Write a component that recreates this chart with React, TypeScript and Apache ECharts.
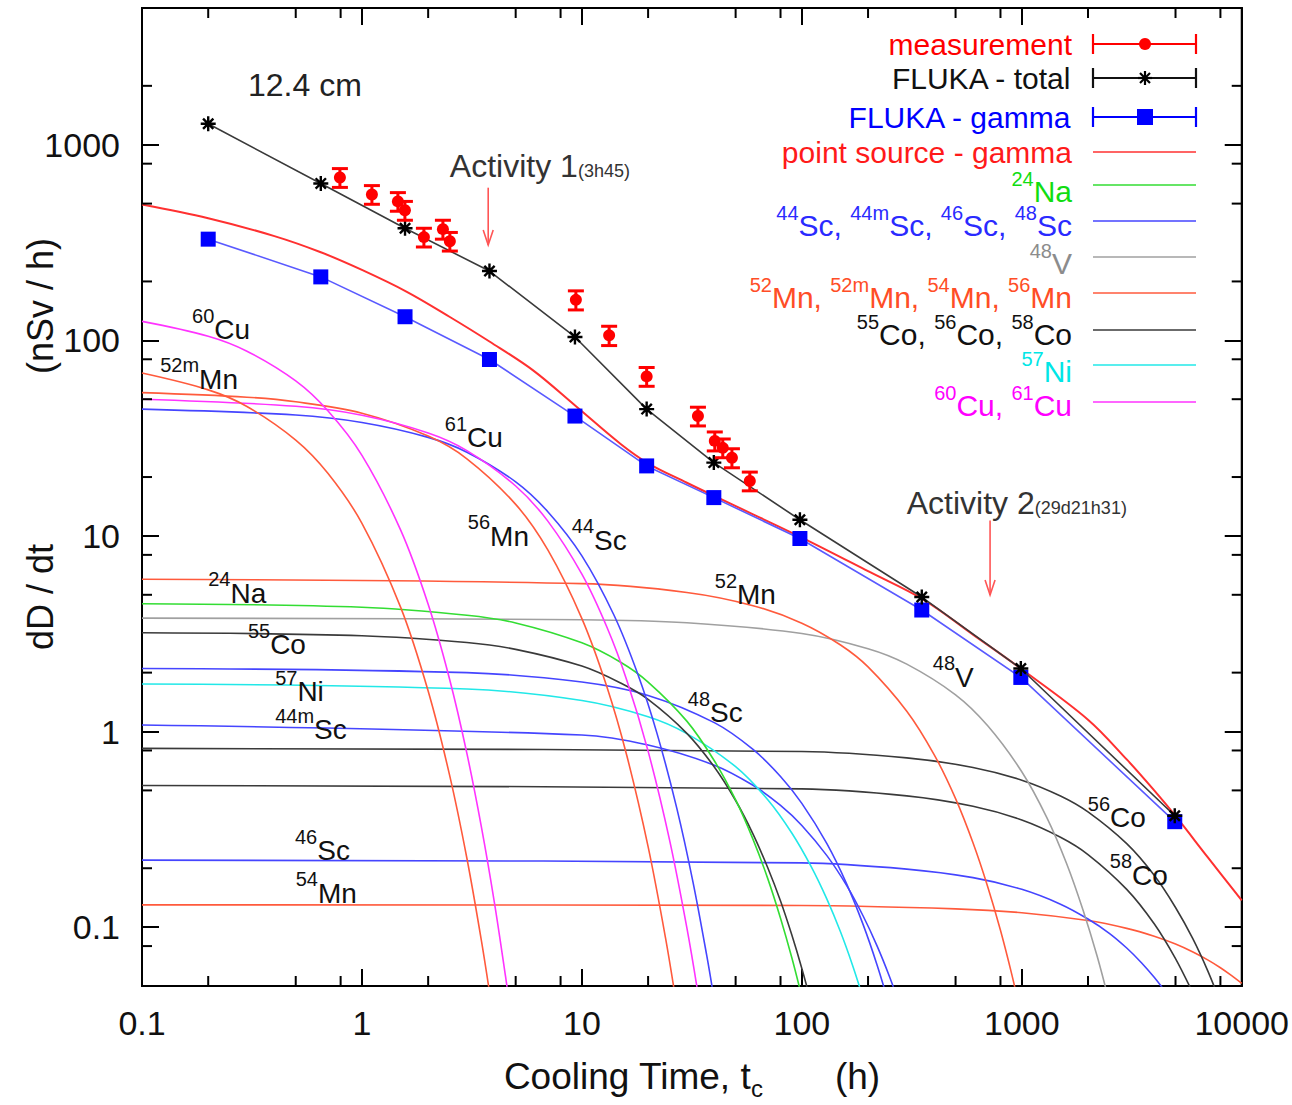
import React, { useEffect, useRef } from "react";
import * as echarts from "echarts";

const FONT = '"Liberation Sans", Arial, Helvetica, sans-serif';

// ---- axis ticks ----
const xMinorTicks = [0.2, 0.5, 0.8, 2, 5, 8, 20, 50, 80, 200, 500, 800, 2000, 5000, 8000];
const yMinorTicks = [0.08, 0.2, 0.5, 0.8, 2, 5, 8, 20, 50, 80, 200, 500, 800, 2000];

// ---- FLUKA results ----
const flukaTime = [0.2, 0.65, 1.57, 3.8, 9.3, 19.7, 39.8, 98, 351, 990, 4960];
const flukaTotal = [1279, 634, 374, 226, 104, 44.5, 23.7, 12.1, 4.87, 2.1, 0.371];
const flukaGamma = [329, 211, 132, 79.8, 41.0, 22.8, 15.7, 9.7, 4.18, 1.89, 0.346];

// ---- measurement ----
const measTime = [0.794, 1.11, 1.457, 1.568, 1.913, 2.334, 2.51, 9.39, 13.3, 19.7, 33.7, 40.2, 43.7, 48.1, 58.0];
const measDose = [680, 557, 513, 462, 337, 370, 321, 161, 106, 65.4, 41.0, 30.6, 28.2, 25.1, 19.1];
const measErr = [75, 61, 56, 51, 37, 41, 35, 18, 12, 7.2, 4.5, 3.4, 3.1, 2.8, 2.1];

// ---- point source - gamma ----
const psTime = [0.1, 0.2, 0.4, 0.65, 1, 1.6, 2.5, 3.8, 6, 9.4, 15, 20, 30, 40, 60, 100, 200, 360, 600, 1000, 2000, 3000, 4000, 5000, 7000, 10000];
const psDose = [495, 421, 341, 282, 229, 177, 132, 98.6, 70.2, 46, 29.5, 23.5, 18.7, 16, 12.9, 9.8, 6.6, 4.7, 3.13, 2.08, 1.15, 0.72, 0.5, 0.37, 0.228, 0.137];

// ---- nuclide contributions ----
const cu60T = [0.1, 0.2, 0.3, 0.5, 0.7, 1, 1.5, 2, 2.5, 3, 3.5, 4, 4.5, 4.7];
const cu60V = [125, 105, 88, 62, 43.6, 25.8, 10.7, 4.47, 1.86, 0.773, 0.321, 0.134, 0.0556, 0.039];
const cu61T = [0.1, 0.5, 1, 2, 3, 5, 7, 10, 13, 16, 20, 25, 30, 34];
const cu61V = [50, 46, 41.4, 33.6, 27.3, 18.0, 11.9, 6.37, 3.41, 1.83, 0.794, 0.281, 0.0994, 0.0431];
const mn52mT = [0.1, 0.2, 0.3, 0.5, 0.7, 1, 1.5, 2, 2.5, 3, 3.5, 3.9];
const mn52mV = [68, 55.8, 45.9, 30.9, 20.9, 11.6, 4.31, 1.61, 0.602, 0.225, 0.084, 0.0384];
const mn56T = [0.1, 0.3, 0.5, 1, 2, 3, 5, 7, 10, 13, 16, 20, 24, 27];
const mn56V = [54, 51.2, 48.5, 42.4, 32.4, 24.8, 14.5, 8.48, 3.78, 1.69, 0.754, 0.258, 0.0881, 0.0393];
const mn52T = [0.1, 10, 30, 60, 100, 150, 200, 300, 400, 500, 600, 700, 800, 900, 1000];
const mn52V = [6, 5.7, 5.14, 4.4, 3.58, 2.77, 2.14, 1.27, 0.76, 0.454, 0.27, 0.161, 0.0964, 0.0575, 0.0343];
const mn54T = [0.1, 100, 500, 1000, 2000, 3000, 4000, 5000, 6000, 7000, 8000, 9000, 10000];
const mn54V = [0.13, 0.129, 0.124, 0.1185, 0.108, 0.0985, 0.0898, 0.0819, 0.0746, 0.068, 0.062, 0.0565, 0.0516];
const sc44T = [0.1, 0.5, 1, 2, 3, 5, 7, 10, 14, 18, 22, 27, 32, 37, 40];
const sc44V = [44.5, 41.5, 38.0, 31.9, 26.8, 18.9, 13.3, 7.91, 3.93, 1.95, 0.97, 0.406, 0.17, 0.071, 0.0422];
const sc44mT = [0.1, 10, 20, 40, 60, 80, 100, 130, 160, 190, 220, 250, 280];
const sc44mV = [1.08, 0.96, 0.853, 0.673, 0.531, 0.419, 0.331, 0.232, 0.163, 0.114, 0.08, 0.0561, 0.0394];
const sc46T = [0.1, 100, 300, 600, 1000, 1500, 2000, 2500, 3000, 3500, 4000, 4500];
const sc46V = [0.22, 0.213, 0.198, 0.179, 0.156, 0.131, 0.11, 0.093, 0.0782, 0.0658, 0.0554, 0.0467];
const sc48T = [0.1, 3, 10, 20, 40, 60, 80, 100, 130, 160, 190, 220, 250];
const sc48V = [2.1, 2.0, 1.79, 1.53, 1.11, 0.81, 0.589, 0.429, 0.267, 0.166, 0.103, 0.0639, 0.0397];
const na24T = [0.1, 1, 3, 5, 10, 15, 20, 30, 40, 50, 60, 70, 80, 90, 100];
const na24V = [4.5, 4.32, 3.93, 3.59, 2.84, 2.26, 1.79, 1.13, 0.709, 0.447, 0.281, 0.177, 0.111, 0.0699, 0.044];
const v48T = [0.1, 10, 30, 100, 200, 300, 500, 700, 1000, 1300, 1600, 1900, 2200, 2500];
const v48V = [3.8, 3.73, 3.6, 3.17, 2.65, 2.21, 1.54, 1.07, 0.623, 0.363, 0.211, 0.122, 0.0711, 0.0413];
const co55T = [0.1, 1, 3, 5, 10, 15, 20, 30, 40, 50, 60, 70, 80, 90, 100, 110];
const co55V = [3.2, 3.09, 2.85, 2.63, 2.16, 1.77, 1.46, 0.979, 0.659, 0.444, 0.299, 0.201, 0.136, 0.0913, 0.0615, 0.0415];
const co56T = [0.1, 100, 300, 600, 1000, 1500, 2000, 3000, 4000, 5000, 6000, 7000, 8000];
const co56V = [0.82, 0.79, 0.733, 0.655, 0.564, 0.468, 0.388, 0.267, 0.184, 0.126, 0.087, 0.0599, 0.0412];
const co58T = [0.1, 100, 300, 600, 1000, 1500, 2000, 3000, 4000, 5000, 6000];
const co58V = [0.53, 0.509, 0.469, 0.415, 0.353, 0.288, 0.235, 0.156, 0.104, 0.069, 0.046];
const ni57T = [0.1, 3, 10, 20, 30, 50, 70, 90, 110, 130, 150, 170, 190];
const ni57V = [1.75, 1.65, 1.44, 1.19, 0.976, 0.661, 0.448, 0.303, 0.205, 0.139, 0.0944, 0.0639, 0.0433];

// ---- curve labels (annotation anchors in data space) ----
const curveLabelText = ["{s|60}{m|Cu}", "{s|52m}{m|Mn}", "{s|61}{m|Cu}", "{s|56}{m|Mn}", "{s|44}{m|Sc}", "{s|24}{m|Na}", "{s|55}{m|Co}", "{s|57}{m|Ni}", "{s|44m}{m|Sc}", "{s|46}{m|Sc}", "{s|54}{m|Mn}", "{s|52}{m|Mn}", "{s|48}{m|V}", "{s|48}{m|Sc}", "{s|56}{m|Co}", "{s|58}{m|Co}"];
const curveLabelT = [0.169, 0.121, 2.38, 3.03, 9.0, 0.2, 0.303, 0.403, 0.403, 0.496, 0.5, 40.2, 394, 30.3, 1995, 2512];
const curveLabelV = [113, 63.2, 31.7, 9.94, 9.48, 5.1, 2.78, 1.6, 1.02, 0.246, 0.149, 4.99, 1.89, 1.25, 0.362, 0.184];

// ---- activity arrows ----
const actTime = [3.75, 717.5];
const actTop = [603, 12.0];
const actBottom = [307, 4.99];
const actLabelT = [2.51, 300];
const actLabelV = [782, 14.8];
const actLabelText = ["{a|Activity 1}{b|(3h45)}", "{a|Activity 2}{b|(29d21h31)}"];

const C = {
  meas: "#ff0000",
  totalLine: "#3a3a3a",
  gamma: "#0000ff",
  gammaLine: "#5a5aff",
  ps: "#ff3030",
  na: "#33dd33",
  sc: "#4545ff",
  v: "#a0a0a0",
  mn: "#ff5a3c",
  co: "#3a3a3a",
  ni: "#22e8e8",
  cu: "#ff33ff",
};

const pairs = (t: number[], v: number[]) => t.map((x, i) => [x, v[i]]);

// ---- superscript text layout (separate text pieces, widths measured) ----
let measureCtx: CanvasRenderingContext2D | null = null;
function textWidth(s: string, size: number) {
  if (!measureCtx) measureCtx = document.createElement("canvas").getContext("2d");
  if (!measureCtx) return s.length * size * 0.55;
  measureCtx.font = `${size}px ${FONT}`;
  return measureCtx.measureText(s).width;
}
function parseFrags(s: string) {
  const out: { sup: boolean; text: string }[] = [];
  const re = /\{(\w)\|([^}]*)\}/g;
  let m: RegExpExecArray | null;
  while ((m = re.exec(s))) out.push({ sup: m[1] === "s", text: m[2] });
  return out;
}
function supText(s: string, x: number, y: number, align: "left" | "right", color: string, main: number, sup: number, raise: number) {
  const frags = parseFrags(s);
  const widths = frags.map((f) => textWidth(f.text, f.sup ? sup : main));
  const total = widths.reduce((a, b) => a + b, 0);
  let cx = align === "left" ? x : x - total;
  return frags.map((f, i) => {
    const el = {
      type: "text",
      x: cx,
      y: f.sup ? y - raise : y,
      silent: true,
      style: { text: f.text, fontSize: f.sup ? sup : main, fontFamily: FONT, fill: color, align: "left", verticalAlign: "middle" },
    };
    cx += widths[i];
    return el;
  });
}

const STAR = "path://M0,8L16,8M8,0L8,16M2.5,2.5L13.5,13.5M13.5,2.5L2.5,13.5";

function nuclide(name: string, t: number[], v: number[], color: string, z = 2) {
  return {
    type: "line",
    name,
    data: pairs(t, v),
    symbol: "none",
    smooth: 0.35,
    lineStyle: { color, width: 1.6 },
    z,
    silent: true,
  };
}

function buildLegend() {
  const LX = 1072, L1 = 1093, L2 = 1196, LM = 1145;
  const items = [
    { text: "{m|measurement}", color: C.meas, ty: 44, ly: 44, line: C.meas, mark: "meas" },
    { text: "{m|FLUKA - total}", color: "#111", ty: 78, ly: 78, line: "#111", mark: "star" },
    { text: "{m|FLUKA - gamma}", color: C.gamma, ty: 117, ly: 117, line: C.gamma, mark: "square" },
    { text: "{m|point source - gamma}", color: "#ff1a1a", ty: 152, ly: 152, line: C.ps, mark: "" },
    { text: "{s|24}{m|Na}", color: "#11dd11", ty: 191, ly: 185, line: C.na, mark: "" },
    { text: "{s|44}{m|Sc, }{s|44m}{m|Sc, }{s|46}{m|Sc, }{s|48}{m|Sc}", color: "#2a2aff", ty: 225, ly: 221, line: C.sc, mark: "" },
    { text: "{s|48}{m|V}", color: "#8c8c8c", ty: 263, ly: 257, line: C.v, mark: "" },
    { text: "{s|52}{m|Mn, }{s|52m}{m|Mn, }{s|54}{m|Mn, }{s|56}{m|Mn}", color: "#ff4d26", ty: 297, ly: 293, line: C.mn, mark: "" },
    { text: "{s|55}{m|Co, }{s|56}{m|Co, }{s|58}{m|Co}", color: "#111", ty: 334, ly: 330, line: C.co, mark: "" },
    { text: "{s|57}{m|Ni}", color: "#00e6e6", ty: 371, ly: 365, line: C.ni, mark: "" },
    { text: "{s|60}{m|Cu, }{s|61}{m|Cu}", color: "#ff00ff", ty: 405, ly: 402, line: C.cu, mark: "" },
  ];
  const els: any[] = [];
  items.forEach((it) => {
    els.push(...supText(it.text, LX, it.ty, "right", it.color, 30, 20, 12));
    const lw = it.mark ? 2.2 : 1.6;
    els.push({ type: "line", silent: true, shape: { x1: L1, y1: it.ly, x2: L2, y2: it.ly }, style: { stroke: it.line, lineWidth: lw } });
    if (it.mark) {
      els.push({ type: "line", silent: true, shape: { x1: L1, y1: it.ly - 10, x2: L1, y2: it.ly + 10 }, style: { stroke: it.line, lineWidth: lw } });
      els.push({ type: "line", silent: true, shape: { x1: L2, y1: it.ly - 10, x2: L2, y2: it.ly + 10 }, style: { stroke: it.line, lineWidth: lw } });
    }
    if (it.mark === "meas") {
      els.push({ type: "circle", silent: true, shape: { cx: LM, cy: it.ly, r: 6 }, style: { fill: C.meas } });
    } else if (it.mark === "star") {
      const s = 7;
      [[-s, 0, s, 0], [0, -s, 0, s], [-5, -5, 5, 5], [5, -5, -5, 5]].forEach((d) =>
        els.push({ type: "line", silent: true, shape: { x1: LM + d[0], y1: it.ly + d[1], x2: LM + d[2], y2: it.ly + d[3] }, style: { stroke: "#000", lineWidth: 2.2 } })
      );
    } else if (it.mark === "square") {
      els.push({ type: "rect", silent: true, shape: { x: LM - 8, y: it.ly - 8, width: 16, height: 16 }, style: { fill: C.gamma } });
    }
  });
  return els;
}

const fmt = (v: number) => (v >= 1 ? String(Math.round(v)) : String(parseFloat(v.toPrecision(2))));

const axisBase = {
  type: "log",
  logBase: 10,
  axisLine: { show: true, onZero: false, lineStyle: { color: "#000", width: 2 } },
  axisTick: { show: true, inside: true, length: 17, lineStyle: { color: "#000", width: 2 } },
  splitLine: { show: false },
  minorTick: { show: false },
  minorSplitLine: { show: false },
};

function buildOption() {
  const tickStyle = { stroke: "#000", lineWidth: 2 };
  return {
    animation: false,
    backgroundColor: "#ffffff",
    grid: { left: 142, top: 8, width: 1100, height: 982, show: true, borderColor: "#000", borderWidth: 2, backgroundColor: "transparent" },
    xAxis: [
      {
        ...axisBase,
        min: 0.1,
        max: 10000,
        splitNumber: 5,
        position: "bottom",
        axisLabel: { fontSize: 34, color: "#111", fontFamily: FONT, margin: 20, formatter: fmt },
        name: "{a|Cooling Time, t}{b|c}{a|       (h)}",
        nameLocation: "middle",
        nameGap: 66,
        nameTextStyle: {
          rich: {
            a: { fontSize: 37, color: "#111", fontFamily: FONT, lineHeight: 48, verticalAlign: "middle" },
            b: { fontSize: 24, color: "#111", fontFamily: FONT, lineHeight: 24, verticalAlign: "bottom" },
          },
        },
      },
      { ...axisBase, min: 0.1, max: 10000, splitNumber: 5, position: "top", axisLabel: { show: false } },
    ],
    yAxis: [
      {
        ...axisBase,
        min: 0.05,
        max: 5000,
        splitNumber: 5,
        position: "left",
        axisLabel: { fontSize: 34, color: "#111", fontFamily: FONT, margin: 22, formatter: fmt, showMinLabel: false, showMaxLabel: false },
      },
      { ...axisBase, min: 0.05, max: 5000, splitNumber: 5, position: "right", axisLabel: { show: false } },
    ],
    graphic: [
      { type: "text", x: 40, y: 597, rotation: Math.PI / 2, silent: true, style: { text: "dD / dt", fontSize: 36, fontFamily: FONT, fill: "#111", align: "center", verticalAlign: "middle" } },
      { type: "text", x: 40, y: 306, rotation: Math.PI / 2, silent: true, style: { text: "(nSv / h)", fontSize: 36, fontFamily: FONT, fill: "#111", align: "center", verticalAlign: "middle" } },
      { type: "text", x: 248, y: 85, silent: true, style: { text: "12.4 cm", fontSize: 32, fontFamily: FONT, fill: "#222", align: "left", verticalAlign: "middle" } },
      ...buildLegend(),
    ],
    series: [
      {
        type: "custom",
        name: "xminor",
        silent: true,
        data: xMinorTicks.map((v) => [v, 1]),
        renderItem: (params: any, api: any) => {
          const p = api.coord([api.value(0), 1]);
          const cs = params.coordSys;
          return {
            type: "group",
            children: [
              { type: "line", shape: { x1: p[0], y1: cs.y + cs.height, x2: p[0], y2: cs.y + cs.height - 10 }, style: tickStyle },
              { type: "line", shape: { x1: p[0], y1: cs.y, x2: p[0], y2: cs.y + 10 }, style: tickStyle },
            ],
          };
        },
        z: 10,
      },
      {
        type: "custom",
        name: "yminor",
        silent: true,
        data: yMinorTicks.map((v) => [1, v]),
        renderItem: (params: any, api: any) => {
          const p = api.coord([1, api.value(1)]);
          const cs = params.coordSys;
          return {
            type: "group",
            children: [
              { type: "line", shape: { x1: cs.x, y1: p[1], x2: cs.x + 10, y2: p[1] }, style: tickStyle },
              { type: "line", shape: { x1: cs.x + cs.width, y1: p[1], x2: cs.x + cs.width - 10, y2: p[1] }, style: tickStyle },
            ],
          };
        },
        z: 10,
      },
      nuclide("54Mn", mn54T, mn54V, C.mn),
      nuclide("46Sc", sc46T, sc46V, C.sc),
      nuclide("58Co", co58T, co58V, C.co),
      nuclide("56Co", co56T, co56V, C.co),
      nuclide("44mSc", sc44mT, sc44mV, C.sc),
      nuclide("57Ni", ni57T, ni57V, C.ni),
      nuclide("48Sc", sc48T, sc48V, C.sc),
      nuclide("55Co", co55T, co55V, C.co),
      nuclide("48V", v48T, v48V, C.v),
      nuclide("24Na", na24T, na24V, C.na),
      nuclide("52Mn", mn52T, mn52V, C.mn),
      nuclide("44Sc", sc44T, sc44V, C.sc),
      nuclide("56Mn", mn56T, mn56V, C.mn),
      nuclide("61Cu", cu61T, cu61V, C.cu),
      nuclide("52mMn", mn52mT, mn52mV, C.mn),
      nuclide("60Cu", cu60T, cu60V, C.cu),
      {
        type: "line",
        name: "point source - gamma",
        data: pairs(psTime, psDose),
        symbol: "none",
        smooth: 0.35,
        lineStyle: { color: C.ps, width: 2 },
        z: 3,
        silent: true,
      },
      {
        type: "line",
        name: "FLUKA - gamma",
        data: pairs(flukaTime, flukaGamma),
        symbol: "rect",
        symbolSize: 15,
        showAllSymbol: true,
        lineStyle: { color: C.gammaLine, width: 1.6 },
        itemStyle: { color: C.gamma, borderWidth: 0 },
        z: 4,
        silent: true,
      },
      {
        type: "line",
        name: "FLUKA - total",
        data: pairs(flukaTime, flukaTotal),
        symbol: STAR,
        symbolSize: 15,
        showAllSymbol: true,
        lineStyle: { color: C.totalLine, width: 1.6 },
        itemStyle: { color: "#000", borderColor: "#000", borderWidth: 2.4 },
        z: 5,
        silent: true,
      },
      {
        type: "custom",
        name: "measurement",
        silent: true,
        data: measTime.map((t, i) => [t, measDose[i], measErr[i]]),
        encode: { x: 0, y: 1 },
        renderItem: (params: any, api: any) => {
          const t = api.value(0), v = api.value(1), e = api.value(2);
          const c = api.coord([t, v]);
          const hi = api.coord([t, v + e]);
          const lo = api.coord([t, v - e]);
          const w = 8;
          const st = { stroke: C.meas, lineWidth: 3 };
          return {
            type: "group",
            children: [
              { type: "line", shape: { x1: c[0], y1: hi[1], x2: c[0], y2: lo[1] }, style: st },
              { type: "line", shape: { x1: c[0] - w, y1: hi[1], x2: c[0] + w, y2: hi[1] }, style: st },
              { type: "line", shape: { x1: c[0] - w, y1: lo[1], x2: c[0] + w, y2: lo[1] }, style: st },
              { type: "circle", shape: { cx: c[0], cy: c[1], r: 6 }, style: { fill: C.meas } },
            ],
          };
        },
        z: 6,
      },
      {
        type: "custom",
        name: "curve labels",
        silent: true,
        data: curveLabelT.map((t, i) => [t, curveLabelV[i]]),
        renderItem: (params: any, api: any) => {
          const p = api.coord([api.value(0), api.value(1)]);
          return {
            type: "group",
            children: supText(curveLabelText[params.dataIndex], p[0], p[1], "left", "#111", 28, 20, 14),
          };
        },
        z: 7,
      },
      {
        type: "custom",
        name: "activity",
        silent: true,
        data: actTime.map((t, i) => [t, actTop[i], actBottom[i], actLabelT[i], actLabelV[i]]),
        encode: { x: 0, y: 1 },
        renderItem: (params: any, api: any) => {
          const t = api.value(0);
          const top = api.coord([t, api.value(1)]);
          const bot = api.coord([t, api.value(2)]);
          const lp = api.coord([api.value(3), api.value(4)]);
          const st = { stroke: "#ff5555", lineWidth: 1.6, fill: "none" };
          return {
            type: "group",
            children: [
              { type: "line", shape: { x1: top[0], y1: top[1], x2: bot[0], y2: bot[1] }, style: st },
              { type: "polyline", shape: { points: [[bot[0] - 5, bot[1] - 15], [bot[0], bot[1]], [bot[0] + 5, bot[1] - 15]] }, style: st },
              {
                type: "text",
                x: lp[0],
                y: lp[1],
                style: {
                  text: actLabelText[params.dataIndex],
                  align: "left",
                  verticalAlign: "middle",
                  rich: {
                    a: { fontSize: 32, fill: "#333", fontFamily: FONT, lineHeight: 28, verticalAlign: "middle" },
                    b: { fontSize: 18, fill: "#333", fontFamily: FONT, lineHeight: 18, verticalAlign: "bottom" },
                  },
                },
              },
            ],
          };
        },
        z: 7,
      },
    ],
  };
}

export default function App() {
  const ref = useRef<HTMLDivElement>(null);
  useEffect(() => {
    document.body.style.margin = "0";
    const chart = echarts.init(ref.current as HTMLDivElement, null, { renderer: "svg" });
    chart.setOption(buildOption() as any);
    return () => chart.dispose();
  }, []);
  return <div ref={ref} style={{ width: 1292, height: 1105 }} />;
}
